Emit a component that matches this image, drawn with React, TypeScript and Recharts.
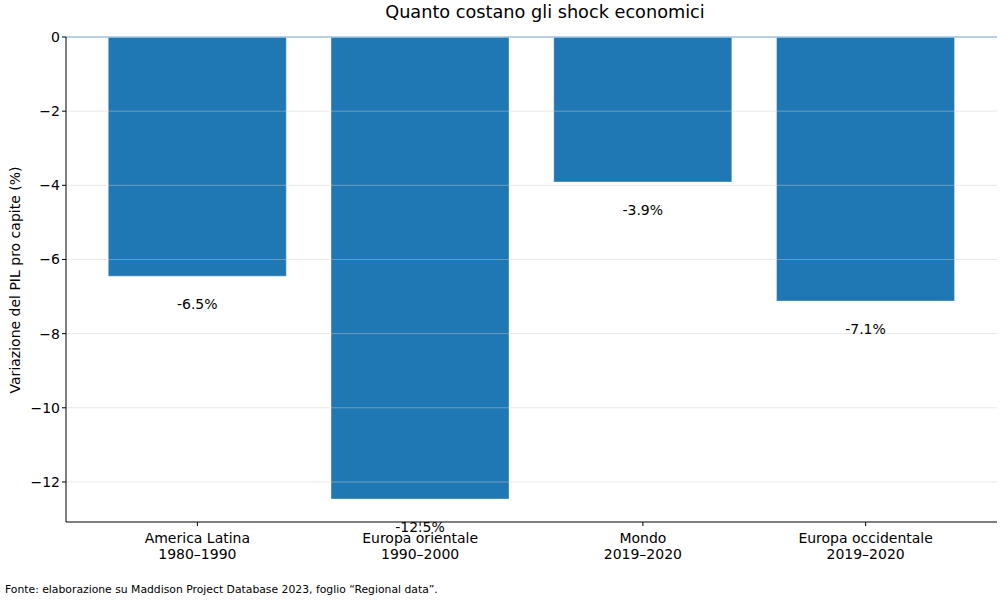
import { BarChart, Bar, XAxis, YAxis, ReferenceLine, LabelList } from "recharts";

const REGIONS = ["America Latina", "Europa orientale", "Mondo", "Europa occidentale"];
const PERIODS = ["1980–1990", "1990–2000", "2019–2020", "2019–2020"];
const CHANGES = [-6.45, -12.46, -3.91, -7.12];
const Y_TICKS = [0, -2, -4, -6, -8, -10, -12];

const FONT = "'DejaVu Sans', sans-serif";

const data = REGIONS.map((r, i) => ({ region: r, period: PERIODS[i], value: CHANGES[i] }));

const fmtMinus = (v: number) => String(v).replace("-", "\u2212");

function CategoryTick(props: any) {
  const { x, y, payload, index } = props;
  return (
    <text x={x} y={y + 15} textAnchor="middle" fontSize={14} fontFamily={FONT} fill="#000">
      <tspan x={x} dy={0}>{payload.value}</tspan>
      <tspan x={x} dy={16}>{PERIODS[index]}</tspan>
    </text>
  );
}

function ValueLabel(props: any) {
  const { x, y, width, height, value } = props;
  const bottom = Math.max(y, y + height);
  return (
    <text
      x={x + width / 2}
      y={bottom + 28}
      textAnchor="middle"
      dominantBaseline="central"
      fontSize={14}
      fontFamily={FONT}
      fill="#000"
    >
      {value.toFixed(1)}%
    </text>
  );
}

export default function App() {
  return (
    <div style={{ position: "absolute", left: 0, top: 0, width: 1004, height: 602, fontFamily: FONT, background: "#fff" }}>
      <div style={{ position: "absolute", left: 145, width: 800, top: 2, textAlign: "center", fontSize: 17.7 }}>
        Quanto costano gli shock economici
      </div>
      <div
        style={{
          position: "absolute",
          left: 15,
          top: 280,
          transform: "translate(-50%, -50%) rotate(-90deg)",
          whiteSpace: "nowrap",
          fontSize: 14,
        }}
      >
        Variazione del PIL pro capite (%)
      </div>
      <BarChart
        width={1004}
        height={602}
        data={data}
        margin={{ top: 37, right: 7, bottom: 30, left: 0 }}
        barCategoryGap="10%"
      >
        <XAxis
          dataKey="region"
          tick={<CategoryTick />}
          axisLine={{ stroke: "#000" }}
          tickLine={{ stroke: "#000" }}
          tickSize={4}
          height={50}
          padding={{ left: 20, right: 20 }}
          interval={0}
        />
        <YAxis
          width={66}
          domain={[-13.08, 0]}
          ticks={Y_TICKS}
          tickFormatter={fmtMinus}
          tick={{ fontSize: 14, fill: "#000", fontFamily: FONT }}
          axisLine={{ stroke: "#000" }}
          tickLine={{ stroke: "#000" }}
          tickSize={4}
          allowDataOverflow
        />
        <Bar dataKey="value" fill="#1f77b4" stroke="rgba(255,255,255,0.35)" strokeWidth={1} isAnimationActive={false}>
          <LabelList dataKey="value" content={<ValueLabel />} />
        </Bar>
        {Y_TICKS.filter((t) => t !== 0).map((t) => (
          <ReferenceLine key={t} y={t} stroke="#cccccc" strokeOpacity={0.45} strokeWidth={1} />
        ))}
        <ReferenceLine y={0} stroke="#9dc3df" strokeWidth={1.5} />
      </BarChart>
      <div style={{ position: "absolute", left: 5, top: 583, fontSize: 10.8 }}>
        Fonte: elaborazione su Maddison Project Database 2023, foglio “Regional data”.
      </div>
    </div>
  );
}
